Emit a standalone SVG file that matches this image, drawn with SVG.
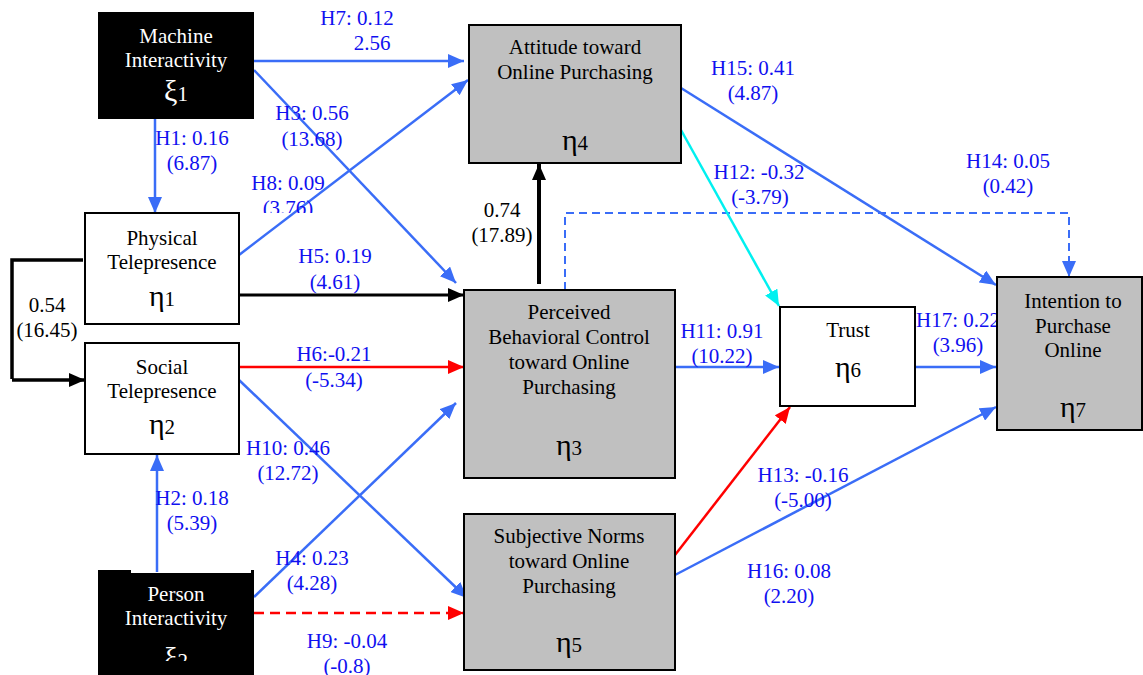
<svg xmlns="http://www.w3.org/2000/svg" width="1143" height="675" viewBox="0 0 1143 675">
<style>
text{font-family:"Liberation Serif","Times New Roman",serif;font-size:21px;text-anchor:middle}
.lbl{fill:#1010f0}
.wt{fill:#ffffff}
.bk{fill:#000000}
.box{stroke:#000;stroke-width:2}
.gray{fill:#c0c0c0}
.white{fill:#ffffff}
.blk{fill:#000000}
.cb{fill:none;stroke:#3a6df7;stroke-width:2.5}
.cr{fill:none;stroke:#ff0000;stroke-width:2.5}
.ck{fill:none;stroke:#000;stroke-width:3.5}
.cc{fill:none;stroke:#00f0f0;stroke-width:2.5}
.big{font-size:30px}
</style>
<defs>
<marker id="ab" markerUnits="userSpaceOnUse" markerWidth="17" markerHeight="14" refX="16" refY="7" orient="auto"><path d="M0,0 L16,7 L0,14 z" fill="#3a6df7"/></marker>
<marker id="ar" markerUnits="userSpaceOnUse" markerWidth="17" markerHeight="14" refX="16" refY="7" orient="auto"><path d="M0,0 L16,7 L0,14 z" fill="#ff0000"/></marker>
<marker id="ak" markerUnits="userSpaceOnUse" markerWidth="17" markerHeight="14" refX="16" refY="7" orient="auto"><path d="M0,0 L16,7 L0,14 z" fill="#000"/></marker>
<marker id="ac" markerUnits="userSpaceOnUse" markerWidth="17" markerHeight="14" refX="16" refY="7" orient="auto"><path d="M0,0 L16,7 L0,14 z" fill="#00f0f0"/></marker>
<clipPath id="clip376"><rect x="240" y="190" width="120" height="23"/></clipPath>
<clipPath id="clipxi2"><rect x="98" y="560" width="160" height="101"/></clipPath>
</defs>

<g id="connectors">
<path class="cb" d="M254,61 L464,61" marker-end="url(#ab)"/>
<path class="cb" d="M254,70 L456,283" marker-end="url(#ab)"/>
<path class="cb" d="M155,119 L155,213" marker-end="url(#ab)"/>
<path class="cb" d="M239,255 L468,80" marker-end="url(#ab)"/>
<path class="ck" style="stroke-width:3" d="M239,295 L464,295" marker-end="url(#ak)"/>
<path class="ck" d="M83,260 L12,260 L12,379"/>
<path class="ck" d="M12,380 L85,380" marker-end="url(#ak)"/>
<path class="cr" d="M239,367 L464,367" marker-end="url(#ar)"/>
<path class="cb" d="M239,380 L467,598" marker-end="url(#ab)"/>
<path class="cb" d="M157,572 L157,455" marker-end="url(#ab)"/>
<path class="cb" d="M254,597 L456,403" marker-end="url(#ab)"/>
<path class="cr" d="M254,613 L464,613" stroke-dasharray="10,6" marker-end="url(#ar)"/>
<path class="ck" style="stroke-width:4" d="M539,284 L539,164" marker-end="url(#ak)"/>
<path class="cb" style="stroke-width:2" d="M565,290 L565,213 L1069,213 L1069,277" stroke-dasharray="8,5" marker-end="url(#ab)"/>
<path class="cb" d="M681,88 L996,285" marker-end="url(#ab)"/>
<path class="cc" d="M681,130 L779,306" marker-end="url(#ac)"/>
<path class="cb" d="M675,367 L779,367" marker-end="url(#ab)"/>
<path class="cb" d="M915,367 L996,367" marker-end="url(#ab)"/>
<path class="cr" d="M675,555 L790,407" marker-end="url(#ar)"/>
<path class="cb" d="M675,575 L996,407" marker-end="url(#ab)"/>
</g>

<g id="labels">
<text class="lbl" x="357" y="25">H7: 0.12</text>
<text class="lbl" x="372" y="50">2.56</text>
<text class="lbl" x="312" y="120">H3: 0.56</text>
<text class="lbl" x="312" y="146">(13.68)</text>
<text class="lbl" x="192" y="145">H1: 0.16</text>
<text class="lbl" x="192" y="170">(6.87)</text>
<text class="lbl" x="288" y="190">H8: 0.09</text>
<text class="lbl" x="288" y="215" clip-path="url(#clip376)">(3.76)</text>
<text class="lbl" x="335" y="263">H5: 0.19</text>
<text class="lbl" x="335" y="289">(4.61)</text>
<text class="bk" x="47" y="312">0.54</text>
<text class="bk" x="47" y="337">(16.45)</text>
<text class="lbl" x="334" y="361">H6:-0.21</text>
<text class="lbl" x="334" y="387">(-5.34)</text>
<text class="lbl" x="288" y="455">H10: 0.46</text>
<text class="lbl" x="288" y="480">(12.72)</text>
<text class="lbl" x="192" y="505">H2: 0.18</text>
<text class="lbl" x="192" y="530">(5.39)</text>
<text class="lbl" x="312" y="565">H4: 0.23</text>
<text class="lbl" x="312" y="590">(4.28)</text>
<text class="lbl" x="347" y="648">H9: -0.04</text>
<text class="lbl" x="347" y="673">(-0.8)</text>
<text class="bk" x="502" y="217">0.74</text>
<text class="bk" x="502" y="242">(17.89)</text>
<text class="lbl" x="753" y="75">H15: 0.41</text>
<text class="lbl" x="753" y="100">(4.87)</text>
<text class="lbl" x="759" y="179">H12: -0.32</text>
<text class="lbl" x="760" y="204">(-3.79)</text>
<text class="lbl" x="1008" y="168">H14: 0.05</text>
<text class="lbl" x="1008" y="193">(0.42)</text>
<text class="lbl" x="722" y="338">H11: 0.91</text>
<text class="lbl" x="722" y="363">(10.22)</text>
<text class="lbl" x="916" y="327" style="text-anchor:start">H17:  0.22</text>
<text class="lbl" x="958" y="352">(3.96)</text>
<text class="lbl" x="803" y="482">H13: -0.16</text>
<text class="lbl" x="803" y="507">(-5.00)</text>
<text class="lbl" x="789" y="578">H16: 0.08</text>
<text class="lbl" x="789" y="603">(2.20)</text>
</g>

<g id="node-machine">
<rect class="blk" x="98" y="12" width="156" height="107"/>
<text class="wt" x="176" y="43">Machine</text>
<text class="wt" x="176" y="67">Interactivity</text>
<text class="wt" x="176" y="101"><tspan class="big">ξ</tspan>1</text>
</g>

<g id="node-physical">
<rect class="box white" x="85" y="213" width="154" height="111"/>
<text class="bk" x="162" y="245">Physical</text>
<text class="bk" x="162" y="269">Telepresence</text>
<text class="bk" x="162" y="306"><tspan class="big">η</tspan>1</text>
</g>

<g id="node-social">
<rect class="box white" x="85" y="343" width="154" height="111"/>
<text class="bk" x="162" y="374">Social</text>
<text class="bk" x="162" y="398">Telepresence</text>
<text class="bk" x="162" y="434"><tspan class="big">η</tspan>2</text>
</g>

<g id="node-person">
<path class="blk" d="M98,570 L131,570 L131,573 L251,573 L251,570 L254,570 L254,680 L98,680 z"/>
<text class="wt" x="176" y="601">Person</text>
<text class="wt" x="176" y="625">Interactivity</text>
<text class="wt" x="176" y="668" clip-path="url(#clipxi2)"><tspan class="big">ξ</tspan>2</text>
</g>

<g id="node-attitude">
<rect class="box gray" x="469" y="25" width="212" height="138"/>
<text class="bk" x="575" y="54">Attitude toward</text>
<text class="bk" x="575" y="79">Online Purchasing</text>
<text class="bk" x="575" y="150"><tspan class="big">η</tspan>4</text>
</g>

<g id="node-pbc">
<rect class="box gray" x="464" y="290" width="211" height="188"/>
<text class="bk" x="569" y="319">Perceived</text>
<text class="bk" x="569" y="344">Behavioral Control</text>
<text class="bk" x="569" y="369">toward Online</text>
<text class="bk" x="569" y="394">Purchasing</text>
<text class="bk" x="569" y="455"><tspan class="big">η</tspan>3</text>
</g>

<g id="node-sn">
<rect class="box gray" x="464" y="514" width="211" height="156"/>
<text class="bk" x="569" y="543">Subjective Norms</text>
<text class="bk" x="569" y="568">toward Online</text>
<text class="bk" x="569" y="593">Purchasing</text>
<text class="bk" x="569" y="652"><tspan class="big">η</tspan>5</text>
</g>

<g id="node-trust">
<rect class="box white" x="780" y="307" width="135" height="99"/>
<text class="bk" x="848" y="337">Trust</text>
<text class="bk" x="848" y="377"><tspan class="big">η</tspan>6</text>
</g>

<g id="node-intention">
<rect class="box gray" x="997" y="277" width="145" height="153"/>
<text class="bk" x="1073" y="308">Intention to</text>
<text class="bk" x="1073" y="333">Purchase</text>
<text class="bk" x="1073" y="357">Online</text>
<text class="bk" x="1073" y="417"><tspan class="big">η</tspan>7</text>
</g>
</svg>
